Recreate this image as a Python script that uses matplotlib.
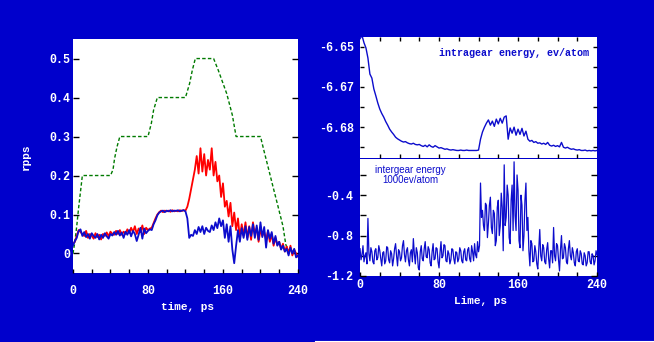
import numpy as np
import matplotlib
matplotlib.use('Agg')
import matplotlib.pyplot as plt
from matplotlib.lines import Line2D

plt.rcParams['font.family'] = ['Liberation Mono', 'DejaVu Sans Mono']
plt.rcParams['font.weight'] = 'bold'

BG = '#0000cc'
LINE_BLUE = '#0c0ccc'

# ---- left panel: rpps vs time ----
t = np.arange(0, 242, 2)

rpps_blue = [0.020, 0.032, 0.040, 0.058, 0.062, 0.045, 0.055, 0.042, 0.050, 0.038,
             0.052, 0.045, 0.040, 0.050, 0.036, 0.048, 0.040, 0.052, 0.044, 0.038,
             0.050, 0.046, 0.055, 0.048, 0.058, 0.046, 0.054, 0.040, 0.056, 0.048,
             0.060, 0.044, 0.058, 0.050, 0.032, 0.048, 0.066, 0.038, 0.064, 0.052,
             0.058, 0.062, 0.060, 0.075, 0.085, 0.098, 0.105, 0.108, 0.110, 0.106,
             0.110, 0.108, 0.111, 0.108, 0.110, 0.109, 0.111, 0.108, 0.110, 0.111,
             0.108, 0.090, 0.040, 0.048, 0.045, 0.060, 0.050, 0.068, 0.055, 0.070,
             0.050, 0.066, 0.058, 0.055, 0.072, 0.060, 0.080, 0.065, 0.090, 0.070,
             0.085, 0.040, 0.075, 0.030, 0.070, 0.010, -0.025, 0.020, 0.060, 0.030,
             0.065, 0.040, 0.070, 0.035, 0.068, 0.045, 0.075, 0.040, 0.072, 0.035,
             0.080, 0.042, 0.068, 0.015, 0.060, 0.038, 0.055, 0.025, 0.045, 0.020,
             0.030, 0.010, 0.020, 0.005, 0.012, -0.005, 0.015, 0.000, 0.012, -0.010,
             -0.005]

rpps_red = [0.025, 0.030, 0.045, 0.060, 0.055, 0.050, 0.045, 0.058, 0.040, 0.050,
            0.046, 0.038, 0.052, 0.042, 0.048, 0.036, 0.050, 0.045, 0.054, 0.044,
            0.056, 0.050, 0.048, 0.058, 0.050, 0.060, 0.048, 0.056, 0.050, 0.062,
            0.052, 0.066, 0.055, 0.070, 0.050, 0.064, 0.055, 0.072, 0.050, 0.066,
            0.060, 0.064, 0.066, 0.078, 0.090, 0.100, 0.106, 0.110, 0.106, 0.110,
            0.108, 0.110, 0.107, 0.111, 0.108, 0.110, 0.108, 0.111, 0.109, 0.111,
            0.110, 0.120, 0.140, 0.165, 0.190, 0.215, 0.250, 0.205, 0.270, 0.210,
            0.255, 0.200, 0.240, 0.215, 0.270, 0.200, 0.235, 0.185, 0.200, 0.145,
            0.180, 0.120, 0.135, 0.095, 0.130, 0.070, 0.105, 0.060, 0.090, 0.040,
            0.075, 0.045, 0.080, 0.040, 0.070, 0.035, 0.080, 0.050, 0.065, 0.030,
            0.060, 0.045, 0.055, 0.035, 0.058, 0.030, 0.050, 0.020, 0.040, 0.022,
            0.030, 0.012, 0.025, 0.005, 0.018, 0.000, 0.020, -0.005, 0.010, 0.000,
            -0.008]

green_t = [0, 2, 4, 6, 10, 40, 42.7, 44.4, 47, 50, 80, 83.6, 86, 90, 120, 124.4, 127.3, 130.5,
           150, 155, 164, 170, 174, 200, 204.4, 208, 213.3, 218.7, 224, 227, 230]
green_v = [0.0, 0.03, 0.07, 0.117, 0.2, 0.2, 0.215, 0.244, 0.274, 0.3, 0.3, 0.334, 0.368, 0.4,
           0.4, 0.436, 0.47, 0.5, 0.5, 0.47, 0.41, 0.355, 0.3, 0.3, 0.257, 0.223, 0.172, 0.121,
           0.07, 0.023, 0.005]

rpps_yticks = [0, 0.1, 0.2, 0.3, 0.4, 0.5]
rpps_ylabels = ['0', '0.1', '0.2', '0.3', '0.4', '0.5']
time_ticks = [0, 80, 160, 240]

# ---- top right: intragear energy ----
intra_e = [-6.6580, -6.6572, -6.6590, -6.6603, -6.6628, -6.6668, -6.6678, -6.6705, -6.6722, -6.6740,
           -6.6755, -6.6766, -6.6775, -6.6786, -6.6795, -6.6805, -6.6812, -6.6818, -6.6825, -6.6829,
           -6.6832, -6.6835, -6.6837, -6.6836, -6.6839, -6.6841, -6.6842, -6.6840, -6.6843, -6.6844,
           -6.6843, -6.6846, -6.6848, -6.6845, -6.6849, -6.6844, -6.6848, -6.6850, -6.6846, -6.6849,
           -6.6852, -6.6851, -6.6853, -6.6855, -6.6854, -6.6856, -6.6857, -6.6856, -6.6857, -6.6858,
           -6.6858, -6.6857, -6.6858, -6.6858, -6.6857, -6.6858, -6.6858, -6.6858, -6.6858, -6.6858,
           -6.6857, -6.6830, -6.6812, -6.6800, -6.6790, -6.6782, -6.6795, -6.6785, -6.6798, -6.6780,
           -6.6792, -6.6778, -6.6790, -6.6775, -6.6772, -6.6830, -6.6802, -6.6815, -6.6800, -6.6820,
           -6.6805, -6.6818, -6.6803, -6.6822, -6.6810, -6.6830, -6.6835, -6.6833, -6.6838, -6.6836,
           -6.6840, -6.6839, -6.6842, -6.6840, -6.6843, -6.6838, -6.6845, -6.6847, -6.6845, -6.6848,
           -6.6846, -6.6849, -6.6838, -6.6850, -6.6852, -6.6850, -6.6853, -6.6855, -6.6854, -6.6856,
           -6.6857, -6.6856, -6.6858, -6.6858, -6.6857, -6.6859, -6.6858, -6.6859, -6.6858, -6.6859,
           -6.6858]
intra_ticks = [-6.66, -6.67, -6.68]
intra_labels = ['-6.65', '-6.67', '-6.68']

# ---- bottom right: intergear energy (1 ps samples) ----
t_inter = np.arange(0, 241)
inter_e = [-0.93, -1.04, -0.99, -0.90, -1.06, -1.00, -0.97, -1.08, -0.63, -0.98,
           -1.05, -0.92, -0.96, -1.06, -1.08, -0.95, -0.93, -1.04, -1.02, -0.90,
           -0.95, -1.03, -1.10, -0.97, -0.96, -1.08, -1.05, -0.91, -0.92, -1.04,
           -1.07, -0.95, -0.98, -1.10, -1.03, -0.93, -0.88, -1.00, -1.10, -0.94,
           -0.96, -1.05, -1.02, -0.90, -0.85, -0.99, -1.06, -0.95, -0.92, -1.04,
           -1.10, -0.97, -0.94, -1.06, -0.83, -0.98, -1.08, -0.92, -0.97, -1.12,
           -1.14, -0.96, -0.90, -1.03, -1.05, -0.93, -0.86, -1.01, -1.02, -0.91,
           -0.94, -1.07, -1.10, -0.96, -0.88, -1.04, -1.03, -0.92, -0.93, -1.06,
           -1.12, -0.97, -0.86, -1.02, -1.00, -0.89, -0.90, -1.05, -1.06, -0.95,
           -0.98, -1.08, -1.04, -0.93, -0.94, -1.03, -1.08, -0.96, -0.97, -1.06,
           -1.03, -0.92, -0.95, -1.05, -1.07, -0.96, -0.93, -1.04, -1.05, -0.94,
           -0.92, -1.03, -1.06, -0.90, -0.96, -1.05, -0.88, -0.99, -1.02, -0.86,
           -0.96, -0.90, -0.28, -0.62, -0.55, -0.70, -0.75, -0.48, -0.50, -0.82,
           -0.68, -0.50, -0.42, -0.72, -0.78, -0.55, -0.58, -0.90, -0.85, -0.52,
           -0.45, -0.80, -0.70, -0.38, -0.52, -0.95, -0.10, -0.70, -0.62, -0.30,
           -0.40, -0.82, -0.88, -0.45, -0.30, -0.75, -0.07, -0.60, -0.75, -0.20,
           -0.35, -0.85, -0.92, -0.40, -0.50, -0.95, -0.80, -0.45, -0.28, -0.75,
           -0.62, -0.95, -1.10, -0.85, -0.88, -1.06, -1.05, -0.90, -0.96, -1.08,
           -1.13, -0.93, -0.74, -1.00, -1.05, -0.89, -0.92, -1.06, -1.08, -0.94,
           -0.87, -1.03, -1.12, -0.95, -0.95, -1.07, -0.72, -1.00, -1.05, -0.88,
           -0.90, -1.04, -1.15, -0.94, -0.80, -1.03, -1.02, -0.88, -0.92, -1.06,
           -1.08, -0.93, -0.85, -1.00, -1.04, -0.92, -0.97, -1.07, -1.10, -0.96,
           -0.93, -1.05, -1.06, -0.95, -0.98, -1.08, -1.09, -0.97, -1.00, -1.10,
           -1.07, -0.96, -0.96, -1.06, -1.08, -0.98, -1.00, -1.09, -1.05, -0.95,
           -0.99]
inter_ticks = [-0.4, -0.8, -1.2]
inter_labels = ['-0.4', '-0.8', '-1.2']

fig = plt.figure(figsize=(6.54, 3.42), dpi=100)
fig.patch.set_facecolor(BG)

ax1 = fig.add_axes([0.1116, 0.2018, 0.344, 0.684])
ax2 = fig.add_axes([0.5505, 0.5371, 0.3624, 0.3556])
ax3 = fig.add_axes([0.5505, 0.193, 0.3624, 0.3412])

for ax in (ax1, ax2, ax3):
    ax.set_facecolor('white')
    for s in ax.spines.values():
        s.set_visible(False)
    ax.tick_params(which='both', direction='in', colors='black', labelcolor='white',
                   labelsize=8.4, width=1)

# left
ax1.plot(green_t, green_v, color='#007a00', lw=1.0, linestyle=(0, (2.5, 1.6)))
ax1.plot(t, rpps_red, color='#ff0000', lw=1.3)
ax1.plot(t, rpps_blue, color=LINE_BLUE, lw=1.3)
ax1.set_xlim(0, 240)
ax1.set_ylim(-0.05, 0.55)
ax1.set_yticks(rpps_yticks)
ax1.set_yticklabels(rpps_ylabels)
ax1.set_xticks(time_ticks)
ax1.set_xticks(np.arange(0, 241, 20), minor=True)
ax1.tick_params(axis='y', which='major', left=True, right=True, length=4, pad=2)
ax1.tick_params(axis='x', which='both', bottom=True, top=False, length=3, pad=9)

# top right
ax2.plot(t, intra_e, color=LINE_BLUE, lw=1.0)
ax2.set_xlim(0, 240)
ax2.set_ylim(-6.68775, -6.6575)
ax2.set_yticks(intra_ticks)
ax2.set_yticklabels(intra_labels)
ax2.set_yticks([-6.665, -6.675, -6.685], minor=True)
ax2.set_xticks(np.arange(20, 240, 20))
ax2.tick_params(axis='x', which='both', bottom=True, top=True, labelbottom=False, length=3)
ax2.tick_params(axis='y', which='both', left=True, right=True, length=3, pad=4)
ax2.text(0.65, 0.863, 'intragear energy, ev/atom', transform=ax2.transAxes,
         ha='center', va='center', color=LINE_BLUE, fontsize=7.2)

# bottom right
ax3.plot(t_inter, inter_e, color=LINE_BLUE, lw=0.9)
ax3.set_xlim(0, 240)
ax3.set_ylim(-1.2, -0.045)
ax3.set_yticks(inter_ticks)
ax3.set_yticklabels(inter_labels)
ax3.set_yticks([-0.2, -0.6, -1.0], minor=True)
ax3.set_xticks(time_ticks)
ax3.set_xticks(np.arange(0, 241, 20), minor=True)
ax3.tick_params(axis='x', which='both', bottom=True, top=False, length=3, pad=2)
ax3.tick_params(axis='y', which='both', left=True, right=True, length=4, pad=5)
ax3.text(0.211, 0.862, 'intergear energy\n1000ev/atom', transform=ax3.transAxes,
         ha='center', va='center', color=LINE_BLUE, fontsize=7, fontweight='normal',
         family='Liberation Sans', linespacing=1.0)

# axis labels
fig.text(187 / 654, 1 - 307 / 342, 'time, ps', color='white', fontsize=8,
         ha='center', va='center')
fig.text(480 / 654, 1 - 301 / 342, 'Lime, ps', color='white', fontsize=8,
         ha='center', va='center')
fig.text(26 / 654, 1 - 157 / 342, 'rpps', color='white', fontsize=8,
         ha='center', va='center', rotation=90)

fig.add_artist(Line2D([315 / 654, 1], [0.0038, 0.0038], color='white', lw=0.8,
                      transform=fig.transFigure))

fig.savefig('out.png', dpi=100, facecolor=BG)
